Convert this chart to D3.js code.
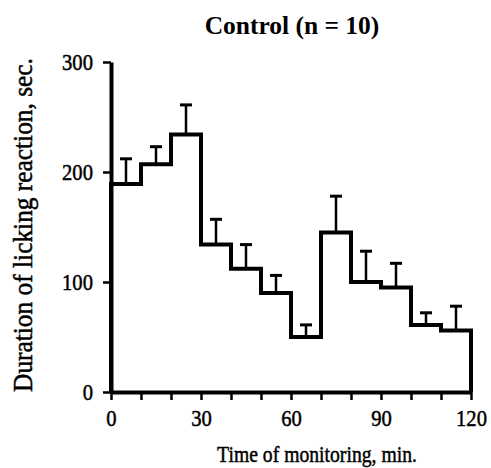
<!DOCTYPE html>
<html>
<head>
<meta charset="utf-8">
<script src="https://cdn.jsdelivr.net/npm/d3@7"></script>
<style>
  html, body { margin: 0; padding: 0; background: #fff; }
  svg { display: block; }
  text { font-family: "Liberation Serif", "Times New Roman", serif; fill: #000; }
</style>
</head>
<body>
<svg id="chart" width="491" height="468"></svg>
<script>
// ---- data ----
const binStarts = [0, 10, 20, 30, 40, 50, 60, 70, 80, 90, 100, 110];
const binWidth = 10;
const means = [189, 207, 234, 134, 112, 90, 50, 145, 100, 95, 61, 56];
const errors = [23, 16, 27, 23, 22, 16, 11, 33, 28, 22, 11, 22];
const xTickValues = [0, 10, 20, 30, 40, 50, 60, 70, 80, 90, 100, 110, 120];
const xTickLabels = ["0", "", "", "30", "", "", "60", "", "", "90", "", "", "120"];
const yTickValues = [0, 100, 200, 300];
const titleText = "Control (n = 10)";
const xTitle = "Time of monitoring, min.";
const yTitle = "Duration of licking reaction, sec.";

// ---- drawing ----
const svg = d3.select("#chart");
const x = d3.scaleLinear().domain([0, 120]).range([111, 471]);
const y = d3.scaleLinear().domain([0, 300]).range([392, 62]);
const condense = 0.86;

function squeeze(sel) {
  sel.each(function () {
    const t = d3.select(this);
    const tx = +t.attr("x") || 0;
    const ty = +t.attr("y") || 0;
    t.attr("x", 0).attr("y", 0)
      .attr("transform", `translate(${tx},${ty}) scale(${condense},1)`);
  });
}

// y axis
const yAxis = svg.append("g").attr("transform", `translate(${x(0)},0)`)
  .call(d3.axisLeft(y).tickValues(yTickValues).tickSize(8).tickSizeOuter(0).tickPadding(10));
yAxis.select(".domain").attr("stroke-width", 4).attr("stroke", "#000");
yAxis.selectAll(".tick line").attr("stroke-width", 2.5).attr("stroke", "#000");
yAxis.selectAll(".tick text").attr("font-size", 24)
  .style("font-family", "'Liberation Serif', serif").attr("fill", "#000")
  .attr("stroke", "#000").attr("stroke-width", 0.5).call(squeeze);

// x axis
const xAxis = svg.append("g").attr("transform", `translate(0,${y(0)})`)
  .call(d3.axisBottom(x).tickValues(xTickValues).tickSize(8).tickSizeOuter(0).tickPadding(9)
    .tickFormat((d, i) => xTickLabels[i]));
xAxis.select(".domain").attr("stroke-width", 4).attr("stroke", "#000");
xAxis.selectAll(".tick line").attr("stroke-width", 2.5).attr("stroke", "#000");
xAxis.selectAll(".tick text").attr("font-size", 24)
  .style("font-family", "'Liberation Serif', serif").attr("fill", "#000")
  .attr("stroke", "#000").attr("stroke-width", 0.5).call(squeeze);

// error bars
const eb = svg.append("g");
binStarts.forEach((s, i) => {
  const cx = x(s + binWidth / 2);
  eb.append("line").attr("x1", cx).attr("x2", cx)
    .attr("y1", y(means[i])).attr("y2", y(means[i] + errors[i]))
    .attr("stroke", "#000").attr("stroke-width", 2.5);
  eb.append("line").attr("x1", cx - 6).attr("x2", cx + 6)
    .attr("y1", y(means[i] + errors[i])).attr("y2", y(means[i] + errors[i]))
    .attr("stroke", "#000").attr("stroke-width", 3);
});

// step outline
const pts = [[0, 0]].concat(binStarts.map((s, i) => [s, means[i]]));
pts.push([binStarts[binStarts.length - 1] + binWidth, means[means.length - 1]]);
pts.push([binStarts[binStarts.length - 1] + binWidth, 0]);
const line = d3.line().x(d => x(d[0])).y(d => y(d[1])).curve(d3.curveStepAfter);
svg.append("path").attr("d", line(pts)).attr("fill", "none")
  .attr("stroke", "#000").attr("stroke-width", 4).attr("stroke-linejoin", "miter");

// titles
svg.append("text").attr("transform", "translate(292,34) scale(0.98,1)")
  .attr("text-anchor", "middle")
  .attr("font-size", 26).attr("font-weight", "bold").text(titleText);
svg.append("text").attr("transform", "translate(317,462) scale(0.82,1)")
  .attr("text-anchor", "middle").attr("font-size", 24)
  .attr("stroke", "#000").attr("stroke-width", 0.5).text(xTitle);
svg.append("text").attr("transform", "translate(32,225) rotate(-90) scale(0.94,1)")
  .attr("text-anchor", "middle").attr("font-size", 27)
  .attr("stroke", "#000").attr("stroke-width", 0.5).text(yTitle);
</script>
</body>
</html>
